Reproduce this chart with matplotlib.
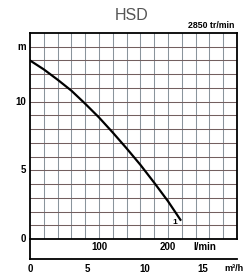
import matplotlib
matplotlib.use("Agg")
import matplotlib.pyplot as plt
import numpy as np

# Data (flow in l/min, head in m)
flow_lmin = [0, 20, 40, 60, 80, 100, 120, 140, 160, 180, 200, 218]
head_m = [13.0, 12.35, 11.6, 10.8, 9.85, 8.85, 7.75, 6.6, 5.4, 4.1, 2.75, 1.4]
y_ticks = [0, 5, 10]
lmin_ticks = [100, 200]
m3h_ticks = [0, 5, 10, 15]

plt.rcParams['font.family'] = ['Liberation Sans', 'DejaVu Sans']

fig = plt.figure(figsize=(2.46, 2.78), dpi=100)
ax = fig.add_axes([30/246, 1-239/278, 207/246, 206/278])
ax.set_xlim(0, 300)
ax.set_ylim(0, 15)

# grid
for x in np.arange(20, 300, 20):
    ax.axvline(x, color='#8a949c', lw=0.75, zorder=1)
for y in np.arange(1, 15, 1):
    ax.axhline(y, color='#735f5f', lw=0.75, zorder=1)

ax.plot(flow_lmin, head_m, color='black', lw=1.6, zorder=3)
ax.text(210, 1.2, '1', fontsize=6, fontweight='bold', ha='center', va='center')

for s in ax.spines.values():
    s.set_linewidth(1.3)
ax.set_xticks([])
ax.set_yticks([])

# y labels
for v in y_ticks:
    ax.text(-6, v, str(v), transform=ax.transData, fontsize=7, fontweight='bold',
            ha='right', va='center', clip_on=False)
ax.text(-6, 14, 'm', fontsize=7, fontweight='bold', ha='right', va='center', clip_on=False)

# bottom band
band = -1.45
ax.plot([0, 0], [0, band], color='black', lw=1.3, clip_on=False)
ax.plot([0, 300], [band, band], color='black', lw=1.3, clip_on=False)
for v in lmin_ticks:
    ax.text(v, -0.6, str(v), fontsize=7, fontweight='bold', ha='center', va='center', clip_on=False)
ax.text(254, -0.6, 'l/min', fontsize=7, fontweight='bold', ha='center', va='center', clip_on=False)
for v in m3h_ticks:
    ax.text(v * 100 / 6, -2.15, str(v), fontsize=7, fontweight='bold', ha='center', va='center', clip_on=False)
ax.text(282, -2.15, 'm³/h', fontsize=6.6, fontweight='bold', ha='left', va='center', clip_on=False)

fig.text(132/246, 1-16/278, 'HSD', fontsize=11.5, color='#555555', ha='center', va='center')
fig.text(234/246, 1-25/278, '2850 tr/min', fontsize=6.3, fontweight='bold', ha='right', va='center')

fig.savefig('out.png', dpi=100)
